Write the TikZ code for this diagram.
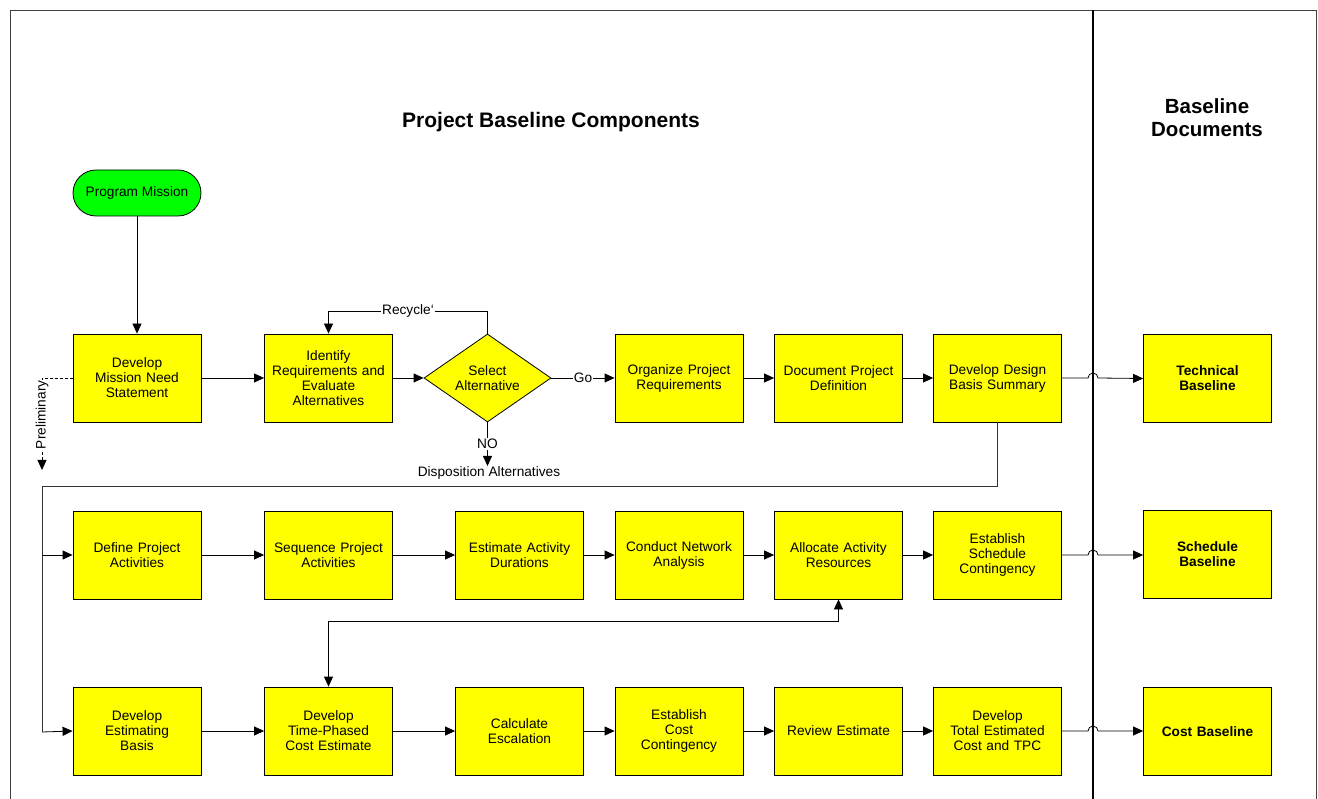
\documentclass[tikz,border=0pt]{standalone}
\usepackage{fontspec}
\setmainfont{Liberation Sans}
\usetikzlibrary{arrows.meta,shapes.geometric}
\definecolor{boxyellow}{RGB}{255,255,0}
\definecolor{termgreen}{RGB}{0,255,0}
\begin{document}
\begin{tikzpicture}[x=1pt,y=-1pt,
  box/.style={draw=black,fill=boxyellow,line width=0.8pt,minimum width=128pt,minimum height=88pt,
    inner sep=0pt,align=center,text width=122pt,font=\fontsize{13.7pt}{15pt}\selectfont},
  docbox/.style={box,font=\fontsize{13.7pt}{15pt}\selectfont\bfseries},
  dec/.style={draw=black,fill=boxyellow,line width=0.8pt,diamond,aspect=1.44,minimum width=127pt,
    minimum height=88pt,inner sep=0pt,align=center,font=\fontsize{13.7pt}{15pt}\selectfont},
  term/.style={draw=black,fill=termgreen,line width=0.8pt,rounded corners=23pt,minimum width=128pt,
    minimum height=46pt,inner sep=0pt,font=\fontsize{13.7pt}{15pt}\selectfont},
  conn/.style={draw=black,line width=0.8pt,-{Triangle[length=10pt,width=9pt]}},
  lab/.style={fill=white,inner sep=1pt,font=\fontsize{13.7pt}{15pt}\selectfont},
  frame/.style={draw=black!75,line width=0.9pt}
]
\useasboundingbox (0,0) rectangle (1318,799);

% frame
\draw[frame] (10,799) -- (10,10) -- (1316,10) -- (1316,799);
\draw[line width=2pt] (1093,10) -- (1093,799);

% titles
\node[font=\fontsize{21pt}{23pt}\selectfont\bfseries] (title) at (551,122) {Project Baseline Components};
\node[font=\fontsize{20.5pt}{23pt}\selectfont\bfseries,align=center] (doctitle) at (1207,118) {Baseline\\Documents};

% nodes
\node[term] (pm) at (137,193) {Program Mission};

\node[box] (mns) at (137,378) {Develop\\Mission Need\\Statement};
\node[box] (ire) at (328.5,378) {Identify\\Requirements and\\Evaluate\\Alternatives};
\node[dec] (sel) at (487.5,378) {Select\\Alternative};
\node[box] (opr) at (679,378) {Organize Project\\Requirements};
\node[box] (dpd) at (838.5,378) {Document Project\\Definition};
\node[box] (dds) at (997.5,378) {Develop Design\\Basis Summary};
\node[docbox] (tb) at (1207.5,378.5) {Technical\\Baseline};

\node[box] (dpa) at (137,555) {Define Project\\Activities};
\node[box] (spa) at (328.5,555) {Sequence Project\\Activities};
\node[box] (ead) at (519.5,555) {Estimate Activity\\Durations};
\node[box] (cna) at (679,555) {Conduct Network\\Analysis};
\node[box] (aar) at (838.5,555) {Allocate Activity\\Resources};
\node[box] (esc) at (997.5,555) {Establish\\Schedule\\Contingency};
\node[docbox] (sb) at (1207.5,554) {Schedule\\Baseline};

\node[box] (deb) at (137,731) {Develop\\Estimating\\Basis};
\node[box] (tpc) at (328.5,731) {Develop\\Time-Phased\\Cost Estimate};
\node[box] (cal) at (519.5,731) {Calculate\\Escalation};
\node[box] (ecc) at (679,731) {Establish\\Cost\\Contingency};
\node[box] (rev) at (838.5,731) {Review Estimate};
\node[box] (tec) at (997.5,731) {Develop\\Total Estimated\\Cost and TPC};
\node[docbox] (cb) at (1207.5,731.5) {Cost Baseline};

% text labels
\node[font=\fontsize{13.7pt}{15pt}\selectfont,anchor=north,inner sep=1pt] (disp) at (489,465) {Disposition Alternatives};

% coordinates
\coordinate (nodown) at (487.5,466);
\coordinate (rcR) at (487.5,311);
\coordinate (rcL) at (328.5,311);
\coordinate (prA) at (42,378);
\coordinate (prB) at (42,470);
\coordinate (bkA) at (997.5,486);
\coordinate (bkB) at (42,486);
\coordinate (bkC) at (42,732);
\coordinate (br2) at (42,555);
\coordinate (dbA) at (838.5,621);
\coordinate (dbB) at (328.5,621);

% connectors row 1
\draw[conn] (pm) -- (mns);
\draw[conn] (mns) -- (ire);
\draw[conn] (ire) -- (sel);
\draw[conn] (sel) -- node[lab] {Go} (opr);
\draw[conn] (opr) -- (dpd);
\draw[conn] (dpd) -- (dds);
\draw[conn] (sel.north) -- (rcR) -- node[lab] {Recycle`} (rcL) -- (ire.north);
\draw[conn] (sel.south) -- node[lab,pos=0.5] {NO} (nodown);
\draw[conn] (dds.east) -- (1088,378) arc[start angle=180,end angle=0,radius=5pt] -- (tb.west);

% preliminary
\draw[conn,dash pattern=on 3pt off 2pt] (mns.west) -- (prA) -- node[lab,rotate=90,pos=0.4] {Preliminary} (prB);

% back loop
\draw[line width=0.8pt,draw=black!80] (dds.south) -- (bkA) -- (bkB) -- (bkC);
\draw[conn] (bkC) -- (deb.west);
\draw[conn] (br2) -- (dpa.west);

% row 2
\draw[conn] (dpa) -- (spa);
\draw[conn] (spa) -- (ead);
\draw[conn] (ead) -- (cna);
\draw[conn] (cna) -- (aar);
\draw[conn] (aar) -- (esc);
\draw[conn] (esc.east) -- (1088,555) arc[start angle=180,end angle=0,radius=5pt] -- (sb.west |- 0,555);

% double arrow
\draw[conn,{Triangle[length=10pt,width=9pt]}-{Triangle[length=10pt,width=9pt]}] (aar.south) -- (dbA) -- (dbB) -- (tpc.north);

% row 3
\draw[conn] (deb) -- (tpc);
\draw[conn] (tpc) -- (cal);
\draw[conn] (cal) -- (ecc);
\draw[conn] (ecc) -- (rev);
\draw[conn] (rev) -- (tec);
\draw[conn] (tec.east) -- (1088,731) arc[start angle=180,end angle=0,radius=5pt] -- (cb.west |- 0,731);
\end{tikzpicture}
\end{document}
